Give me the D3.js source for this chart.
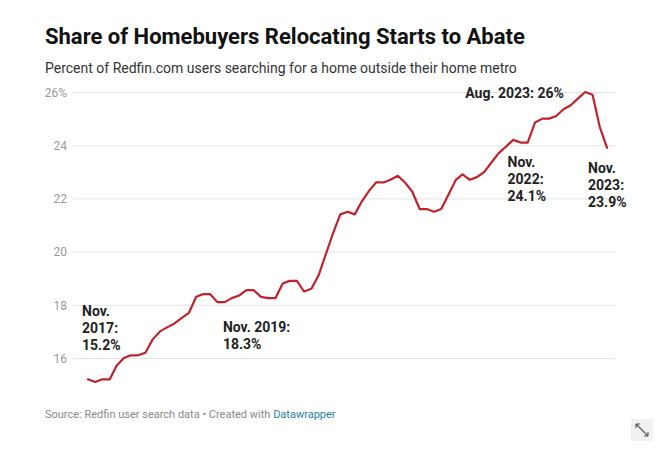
<!DOCTYPE html>
<html>
<head>
<meta charset="utf-8">
<script src="https://cdn.jsdelivr.net/npm/d3@7"></script>
<style>
  html, body { margin: 0; padding: 0; background: #fff; }
  svg text { font-family: Roboto, "Open Sans", sans-serif; }
</style>
</head>
<body>
<svg id="chart" width="670" height="452"></svg>
<script>
// ---- DATA ----
const startMonth = "2017-11";
const shareValues = [
  15.2, 15.1, 15.2, 15.2, 15.7, 16.0, 16.1, 16.1, 16.2, 16.7, 17.0, 17.15,
  17.3, 17.5, 17.7, 18.3, 18.4, 18.4, 18.1, 18.1, 18.25, 18.35, 18.55, 18.55,
  18.3, 18.25, 18.25, 18.8, 18.9, 18.9, 18.5, 18.6, 19.1, 19.9, 20.7, 21.4,
  21.5, 21.4, 21.9, 22.3, 22.6, 22.6, 22.7, 22.85, 22.6, 22.25, 21.6, 21.6,
  21.5, 21.6, 22.15, 22.7, 22.9, 22.7, 22.8, 23.0, 23.35, 23.7, 23.95, 24.2,
  24.1, 24.1, 24.85, 25.0, 25.0, 25.1, 25.35, 25.5, 25.75, 26.0, 25.9, 24.7,
  23.9
];
const yTicks = [16, 18, 20, 22, 24, 26];
const annotations = [
  { month: "2017-11", lines: ["Nov.", "2017:", "15.2%"] },
  { month: "2019-11", lines: ["Nov. 2019:", "18.3%"] },
  { month: "2022-11", lines: ["Nov.", "2022:", "24.1%"] },
  { month: "2023-08", lines: ["Aug. 2023: 26%"] },
  { month: "2023-11", lines: ["Nov.", "2023:", "23.9%"] }
];
const titleText = "Share of Homebuyers Relocating Starts to Abate";
const subtitleText = "Percent of Redfin.com users searching for a home outside their home metro";

// ---- BUILD ----
const parseMonth = d3.timeParse("%Y-%m");
const start = parseMonth(startMonth);
const data = shareValues.map((v, i) => ({ date: d3.timeMonth.offset(start, i), value: v }));

const svg = d3.select("#chart");

const x = d3.scaleTime()
  .domain(d3.extent(data, d => d.date))
  .range([88, 607]);
const y = d3.scaleLinear()
  .domain([16, 26])
  .range([358, 92]);

// title & subtitle
svg.append("text").attr("x", 45).attr("y", 44)
  .attr("font-size", 22).attr("font-weight", 700).attr("fill", "#111")
  .text(titleText);
svg.append("text").attr("x", 45).attr("y", 73)
  .attr("font-size", 14).attr("fill", "#333")
  .text(subtitleText);

// gridlines + y labels
const yAxis = d3.axisLeft(y)
  .tickValues(yTicks)
  .tickSize(-(615 - 73))
  .tickFormat(d => d === 26 ? d + "%" : d);
const gy = svg.append("g").attr("transform", "translate(73,0)").call(yAxis);
gy.select(".domain").remove();
gy.selectAll(".tick line").attr("stroke", "#e3e3e3").attr("stroke-width", 1);
gy.selectAll(".tick text")
  .attr("x", -6).attr("dy", "0.35em")
  .attr("font-size", 12).attr("fill", "#9a9a9a")
  .style("font-family", "Roboto, sans-serif");

// line
const line = d3.line().x(d => x(d.date)).y(d => y(d.value));
svg.append("path").datum(data)
  .attr("d", line)
  .attr("fill", "none")
  .attr("stroke", "#c0232c")
  .attr("stroke-width", 2.2)
  .attr("stroke-linejoin", "round")
  .attr("stroke-linecap", "round");

// annotations (positioned relative to their data point)
const annoOffsets = {
  "2017-11": { dx: -6, y0: 316 },
  "2019-11": { dx: -38, y0: 332 },
  "2022-11": { dx: -13, y0: 167 },
  "2023-08": { dx: -120, y0: 97.5 },
  "2023-11": { dx: -19, y0: 173 }
};
annotations.forEach(a => {
  const d = data.find(p => +p.date === +parseMonth(a.month));
  const o = annoOffsets[a.month];
  const t = svg.append("text")
    .attr("x", x(d.date) + o.dx).attr("y", o.y0)
    .attr("font-size", 14).attr("font-weight", 700).attr("fill", "#222");
  a.lines.forEach((l, i) => {
    t.append("tspan").attr("x", x(d.date) + o.dx).attr("dy", i === 0 ? 0 : 16.8).text(l);
  });
});

// footer
const foot = svg.append("text").attr("x", 45).attr("y", 418)
  .attr("font-size", 11).attr("fill", "#888");
foot.append("tspan").text("Source: Redfin user search data • Created with ");
foot.append("tspan").attr("fill", "#1d81a2").text("Datawrapper");

// expand icon
const ic = svg.append("g").attr("transform", "translate(642,430)");
ic.append("rect").attr("x", -11).attr("y", -11).attr("width", 22).attr("height", 22)
  .attr("fill", "#f1f1f1");
ic.append("path")
  .attr("d", "M-6,-6 L6,6 M-6,-6 L-6,-2 M-6,-6 L-2,-6 M6,6 L6,2 M6,6 L2,6")
  .attr("stroke", "#555").attr("stroke-width", 1.1).attr("fill", "none");
</script>
</body>
</html>
